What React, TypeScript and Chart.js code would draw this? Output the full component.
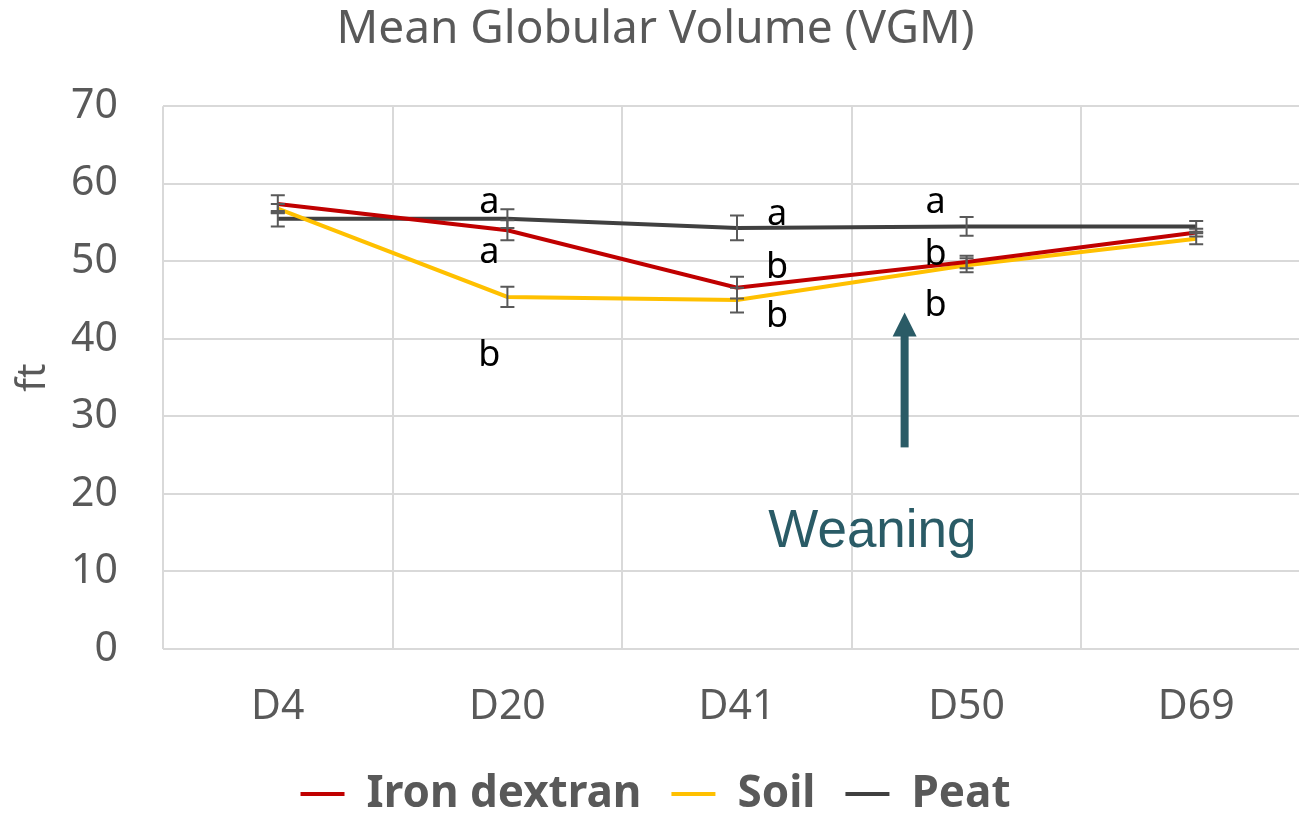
import React, { useEffect, useRef } from "react";
import { Chart, registerables } from "chart.js";

Chart.register(...registerables);

const categories = ["D4", "D20", "D41", "D50", "D69"];
const ironDextran = [57.4, 54.0, 46.6, 49.9, 53.7];
const soil = [56.8, 45.4, 45.0, 49.5, 52.9];
const peat = [55.5, 55.5, 54.3, 54.5, 54.5];
const ironErr = [1.1, 1.3, 1.4, 0.8, 0.5];
const soilErr = [0.6, 1.3, 1.6, 0.9, 0.7];
const peatErr = [1.0, 1.2, 1.6, 1.2, 0.7];
const yTicks = [0, 10, 20, 30, 40, 50, 60, 70];

// significance letters: category, value (baseline), text
const letterCats = ["D20", "D20", "D20", "D41", "D41", "D41", "D50", "D50", "D50"];
const letterValues = [56.2, 49.8, 36.5, 54.7, 47.8, 41.5, 56.2, 49.5, 42.9];
const letterTexts = ["a", "a", "b", "a", "b", "b", "a", "b", "b"];
const letterShift: Record<string, number> = { D20: -18, D41: 40, D50: -31 };

// weaning annotation (category index position, value)
const weaningArrowCat = 2.73;
const weaningArrowFrom = 26;
const weaningArrowTo = 43.4;
const weaningTextCat = 2.59;
const weaningTextValue = 15.1;

const FONT = "'Noto Sans', 'Open Sans', sans-serif";
const GREY = "#595959";

const errorBarPlugin = {
  id: "errorBars",
  afterDatasetsDraw(chart: any) {
    const ctx = chart.ctx;
    const ys = chart.scales.y;
    ctx.save();
    ctx.strokeStyle = "#595959";
    ctx.lineWidth = 2;
    chart.data.datasets.forEach((ds: any, di: number) => {
      const meta = chart.getDatasetMeta(di);
      ds.data.forEach((v: number, i: number) => {
        const e = ds.errors[i];
        const x = meta.data[i].x;
        const yt = ys.getPixelForValue(v + e);
        const yb = ys.getPixelForValue(v - e);
        ctx.beginPath();
        ctx.moveTo(x, yt);
        ctx.lineTo(x, yb);
        ctx.moveTo(x - 7, yt);
        ctx.lineTo(x + 7, yt);
        ctx.moveTo(x - 7, yb);
        ctx.lineTo(x + 7, yb);
        ctx.stroke();
      });
    });
    ctx.restore();
  },
};

const annotationPlugin = {
  id: "annotations",
  afterDraw(chart: any) {
    const ctx = chart.ctx;
    const xs = chart.scales.x;
    const ys = chart.scales.y;
    ctx.save();
    // letters
    ctx.fillStyle = "#000000";
    ctx.font = `36px ${FONT}`;
    ctx.textAlign = "center";
    ctx.textBaseline = "alphabetic";
    letterTexts.forEach((t, i) => {
      const cat = letterCats[i];
      const x = xs.getPixelForValue(categories.indexOf(cat)) + letterShift[cat];
      const y = ys.getPixelForValue(letterValues[i]);
      ctx.fillText(t, x, y);
    });
    // arrow
    const color = "#2A5B66";
    const w0 = xs.getPixelForValue(0);
    const w1 = xs.getPixelForValue(1);
    const ax = w0 + (w1 - w0) * weaningArrowCat;
    const yFrom = ys.getPixelForValue(weaningArrowFrom);
    const yTip = ys.getPixelForValue(weaningArrowTo);
    ctx.fillStyle = color;
    ctx.fillRect(ax - 4, yTip + 22, 8, yFrom - yTip - 22);
    ctx.beginPath();
    ctx.moveTo(ax, yTip);
    ctx.lineTo(ax + 12, yTip + 24);
    ctx.lineTo(ax - 12, yTip + 24);
    ctx.closePath();
    ctx.fill();
    // weaning text
    const tx = w0 + (w1 - w0) * weaningTextCat;
    const ty = ys.getPixelForValue(weaningTextValue);
    ctx.font = `53px 'Liberation Sans', Arial, sans-serif`;
    ctx.textBaseline = "middle";
    ctx.fillText("Weaning", tx, ty);
    ctx.restore();
  },
};

export default function App() {
  const ref = useRef<HTMLCanvasElement>(null);
  useEffect(() => {
    document.documentElement.style.overflow = "hidden";
    document.body.style.overflow = "hidden";
    const chart = new Chart(ref.current as HTMLCanvasElement, {
      type: "line",
      data: {
        labels: categories,
        datasets: [
          { label: "Iron dextran", data: ironDextran, errors: ironErr, borderColor: "#C00000", backgroundColor: "#C00000", borderWidth: 4, pointRadius: 0, tension: 0 } as any,
          { label: "Soil", data: soil, errors: soilErr, borderColor: "#FFC000", backgroundColor: "#FFC000", borderWidth: 4, pointRadius: 0, tension: 0 } as any,
          { label: "Peat", data: peat, errors: peatErr, borderColor: "#404040", backgroundColor: "#404040", borderWidth: 4, pointRadius: 0, tension: 0 } as any,
        ],
      },
      options: {
        animation: false,
        responsive: false,
        layout: { padding: 0 },
        plugins: {
          title: {
            display: true,
            text: "Mean Globular Volume (VGM)",
            color: GREY,
            font: { family: FONT, size: 46, weight: "normal", lineHeight: 1.2 },
            padding: { top: 2, bottom: 49 },
          },
          legend: {
            position: "bottom",
            labels: {
              color: GREY,
              font: { family: FONT, size: 44, weight: "bold" },
              boxWidth: 44,
              boxHeight: 4,
              padding: 30,
              generateLabels: (ch: any) =>
                ch.data.datasets.map((ds: any, i: number) => ({
                  text: ds.label,
                  fillStyle: ds.borderColor,
                  strokeStyle: ds.borderColor,
                  lineWidth: 0,
                  fontColor: GREY,
                  datasetIndex: i,
                  hidden: false,
                })),
            },
          },
          tooltip: { enabled: false },
        },
        scales: {
          x: {
            offset: true,
            grid: { offset: true, color: "#D9D9D9", lineWidth: 2, drawTicks: false },
            border: { display: false },
            ticks: { color: GREY, font: { family: FONT, size: 41 }, padding: 34, maxRotation: 0 },
            afterFit: (s: any) => { s.height = 93; },
          },
          y: {
            min: 0,
            max: 70,
            afterBuildTicks: (s: any) => { s.ticks = yTicks.map((v) => ({ value: v })); },
            grid: { color: "#D9D9D9", lineWidth: 2, drawTicks: false },
            border: { display: false },
            ticks: { color: GREY, font: { family: FONT, size: 41 }, padding: 45 },
            title: { display: true, text: "ft", color: GREY, font: { family: FONT, size: 40 }, padding: { top: 10, bottom: 10 } },
            afterFit: (s: any) => { s.width = 163; },
          },
        },
      } as any,
      plugins: [errorBarPlugin, annotationPlugin],
    });
    return () => chart.destroy();
  }, []);
  return (
    <div style={{ position: "absolute", left: 0, top: 0, width: 1311, height: 826 }}>
      <canvas ref={ref} width={1311} height={826} style={{ display: "block" }} />
    </div>
  );
}
